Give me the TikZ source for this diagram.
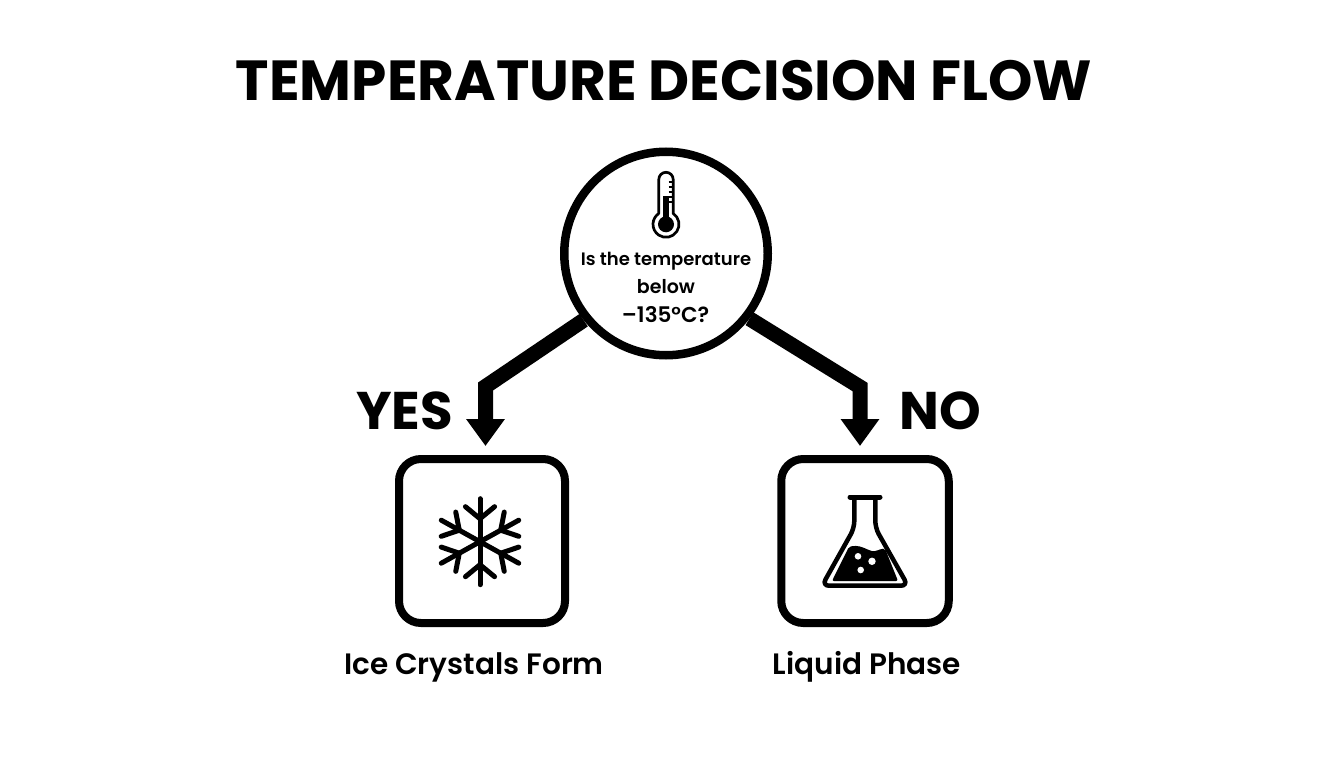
\documentclass[tikz,border=0pt]{standalone}
\usepackage{fontspec}
\setmainfont{Poppins}
\newfontfamily\semifont{Poppins SemiBold}
\usetikzlibrary{arrows.meta,backgrounds}
\tikzset{
  px/.style={x=1pt,y=-1pt},
  title/.style={font=\fontsize{56.5}{60}\selectfont\bfseries,anchor=base,inner sep=0pt},
  answer/.style={font=\fontsize{53}{56}\selectfont\bfseries,anchor=base,inner sep=0pt},
  caption/.style={font=\fontsize{29.5}{32}\selectfont\semifont,anchor=base,inner sep=0pt},
  qline/.style={font=\semifont,anchor=base,inner sep=0pt},
  decision/.style={circle,draw=black,fill=white,line width=8.5pt,minimum size=203.5pt,inner sep=0pt},
  outcome/.style={rectangle,draw=black,fill=white,line width=8pt,rounded corners=22pt,inner sep=0pt,minimum height=164pt},
  flow/.style={draw=black,line width=15pt,miter limit=10,-{Triangle[length=27pt,width=37pt]}},
  icon/.style={draw=black,line cap=round,line join=round},
}
\begin{document}
\begin{tikzpicture}[px]
\useasboundingbox (0,0) rectangle (1344,768);
\node[title] (ttl) at (664,100.5) {TEMPERATURE DECISION FLOW};
\node[decision] (q) at (666,253.5) {};
\node[outcome,minimum width=166pt] (ice) at (482,541) {};
\node[outcome,minimum width=167.5pt] (liq) at (865,541) {};
\coordinate (bendL) at (485.5,386.5);
\coordinate (bendR) at (860,387);
\begin{scope}[on background layer]
\draw[flow,shorten >=9pt] (q.219) -- (bendL) -- (bendL |- ice.north);
\draw[flow,shorten >=9pt] (q.-38) -- (bendR) -- (bendR |- liq.north);
\end{scope}
\node[answer] (yes) at (404.5,429) {YES};
\node[answer] (no) at (940.5,429) {NO};
\node[caption] (icel) at (474,674.5) {Ice Crystals Form};
\node[caption] (liql) at (867,674.5) {Liquid Phase};
\node[qline] (qa) at (666,265.3) {\fontsize{18}{22}\selectfont Is the temperature};
\node[qline] (qb) at (666,293.7) {\fontsize{19}{22}\selectfont below};
\node[qline] (qc) at (665.5,322.7) {\fontsize{21.5}{24}\selectfont –135°C?};
% thermometer
\draw[icon,line width=2.7pt,fill=white] (658.8,213.5) -- (658.8,179.5) arc[start angle=180,end angle=360,radius=7.2] -- (673.2,213.5) arc[start angle=-56.3,end angle=236.3,radius=13] -- cycle;
\fill (662.8,196) rectangle (669.2,220);
\fill (666,224.3) circle[radius=8];
\foreach \yy in {182,187,192,197,202}{\draw[line width=1.3pt] (668.5,\yy) -- (672.5,\yy);}
% snowflake
\begin{scope}[shift={(480,541.7)},xscale=1.04]
\foreach \a in {0,60,...,300}{
  \begin{scope}[rotate=\a]
    \draw[icon,line width=5pt] (0,0) -- (0,43);
    \draw[icon,line width=5pt] (-14,35) -- (0,23) -- (14,35);
  \end{scope}
}
\end{scope}
% flask
\draw[icon,line width=5pt] (850,497) -- (880,497);
\draw[black,line width=4.5pt,line join=round,rounded corners=7pt] (854.3,497) -- (854.3,528) -- (822,585.7) -- (908,585.7) -- (875.3,528) -- (875.3,497);
\fill[black,rounded corners=2pt] (849,546.7) .. controls (858,545) and (862,547) .. (870,550.5) .. controls (875,552) and (880,549) .. (885,548.5) -- (898,581) -- (832,581) -- cycle;
\fill[white] (858,556.3) circle[radius=3.3] (872,561.3) circle[radius=3.7] (860.7,570) circle[radius=3.3];
\end{tikzpicture}
\end{document}
